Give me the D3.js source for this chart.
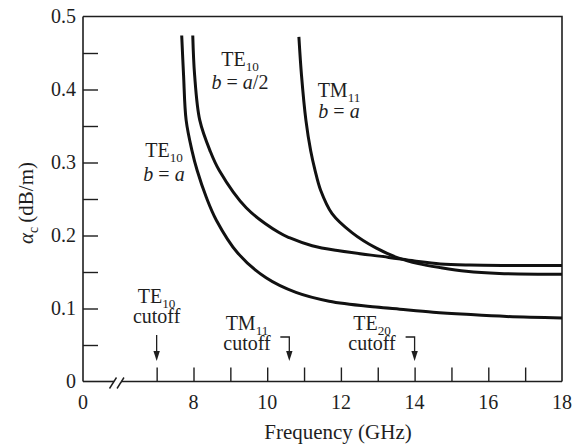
<!DOCTYPE html>
<html>
<head>
<meta charset="utf-8">
<script src="https://cdn.jsdelivr.net/npm/d3@7"></script>
<style>
  html, body { margin: 0; padding: 0; background: #fff; }
  svg { display: block; }
</style>
</head>
<body>
<svg id="chart" width="572" height="448"></svg>
<script>
// ---------------- data ----------------
// Frequency (GHz), attenuation alpha_c (dB/m)
const te10SquarePts = [
  [7.68,0.474],[7.73,0.42],[7.80,0.358],[7.96,0.316],[8.10,0.289],[8.35,0.252],
  [8.62,0.221],[9.20,0.176],[9.97,0.142],[10.78,0.122],[11.68,0.110],
  [12.95,0.102],[13.6,0.099],[14.5,0.095],[15.4,0.092],[16.5,0.089],[18,0.087]
];
const te10HalfPts = [
  [7.98,0.474],[8.03,0.42],[8.17,0.358],[8.45,0.316],[8.70,0.289],[9.43,0.238],
  [10.32,0.204],[10.6,0.197],[11.22,0.186],[11.95,0.179],[13.3,0.170],
  [14.0,0.165],[14.7,0.161],[15.5,0.1595],[16.5,0.159],[18,0.159]
];
const tm11SquarePts = [
  [10.86,0.472],[10.93,0.42],[11.05,0.358],[11.18,0.316],[11.30,0.289],
  [11.45,0.262],[11.76,0.230],[12.3,0.204],[12.95,0.183],[13.57,0.169],
  [14.1,0.1615],[14.7,0.156],[15.4,0.151],[16.3,0.148],[18,0.147]
];
const cutoffFreqs = [7.0, 10.6, 14.0];
const xLabelValues = [0, 8, 10, 12, 14, 16, 18];
const xMinorTicks = [7, 8, 9, 10, 11, 12, 13, 14, 15, 16, 17];
const yLabelValues = [0, 0.1, 0.2, 0.3, 0.4, 0.5];
const yTickValues = [0.05, 0.1, 0.15, 0.2, 0.25, 0.3, 0.35, 0.4, 0.45];
const xDomainBreak = [0, 6, 18];   // broken axis: 0 .. 6 compressed
const yDomain = [0, 0.5];

// ---------------- layout ----------------
const svg = d3.select("#chart");
const FONT = "'Liberation Serif','DejaVu Serif',serif";
const INK = "#1e1e1e";
const pLeft = 83, pRight = 562, pTop = 16.5, pBottom = 381.5;

const x = d3.scaleLinear().domain(xDomainBreak).range([pLeft, 119.8, pRight]);
const y = d3.scaleLinear().domain(yDomain).range([pBottom, pTop]);

// frame: top + right border
svg.append("path")
  .attr("d", `M${pLeft},${pTop}H${pRight}V${pBottom}`)
  .attr("fill", "none").attr("stroke", INK).attr("stroke-width", 1.6);

// y axis (ticks inward)
const yAxis = d3.axisRight(y).tickValues(yTickValues).tickSize(15).tickFormat("");
const gy = svg.append("g").attr("transform", `translate(${pLeft},0)`).call(yAxis);
gy.select(".domain").remove();
gy.selectAll(".tick line").attr("stroke", INK).attr("stroke-width", 1.4);
svg.append("line").attr("x1", pLeft).attr("x2", pLeft).attr("y1", pTop).attr("y2", pBottom)
  .attr("stroke", INK).attr("stroke-width", 1.6);
svg.append("g").selectAll("text").data(yLabelValues).join("text")
  .attr("x", 76).attr("y", d => y(d) + 6.5)
  .attr("text-anchor", "end")
  .attr("font-family", FONT).attr("font-size", 20).attr("fill", INK)
  .text(d => d === 0 ? "0" : d3.format(".1f")(d));

// x axis (ticks inward)
const xAxis = d3.axisTop(x).tickValues(xMinorTicks).tickSize(14).tickFormat("");
const gx = svg.append("g").attr("transform", `translate(0,${pBottom})`).call(xAxis);
gx.select(".domain").remove();
gx.selectAll(".tick line").attr("stroke", INK).attr("stroke-width", 1.4);
// axis line with break
svg.append("line").attr("x1", pLeft).attr("x2", 114).attr("y1", pBottom).attr("y2", pBottom)
  .attr("stroke", INK).attr("stroke-width", 1.6);
svg.append("line").attr("x1", 121).attr("x2", pRight).attr("y1", pBottom).attr("y2", pBottom)
  .attr("stroke", INK).attr("stroke-width", 1.6);
[113, 120.5].forEach(cx => {
  svg.append("line").attr("x1", cx - 3.5).attr("y1", pBottom + 7)
    .attr("x2", cx + 3.5).attr("y2", pBottom - 4)
    .attr("stroke", INK).attr("stroke-width", 1.4);
});
svg.append("g").selectAll("text").data(xLabelValues).join("text")
  .attr("x", d => x(d)).attr("y", 409)
  .attr("text-anchor", "middle")
  .attr("font-family", FONT).attr("font-size", 20).attr("fill", INK)
  .text(d => String(d));

// axis title
svg.append("text").attr("x", 338).attr("y", 439).attr("text-anchor", "middle")
  .attr("font-family", FONT).attr("font-size", 21).attr("fill", INK)
  .text("Frequency (GHz)");

// multi-line rich text: lines = [[seg, ...], ...]
function richText(g, xPos, yPos, lines, size, lineGap) {
  const t = g.append("text").attr("x", xPos).attr("y", yPos)
    .attr("text-anchor", "middle")
    .attr("font-family", FONT).attr("font-size", size).attr("fill", INK);
  let shifted = 0;
  lines.forEach((segs, li) => {
    segs.forEach((s, si) => {
      const sp = t.append("tspan").text(s.t);
      let dy = 0;
      if (si === 0 && li > 0) { sp.attr("x", xPos); dy += lineGap - shifted; shifted = 0; }
      if (s.i) sp.attr("font-style", "italic");
      if (s.sub) {
        sp.attr("font-size", size * 0.66);
        dy += 4.5 - shifted; shifted = 4.5;
      } else if (shifted) {
        dy -= shifted; shifted = 0;
      }
      if (dy) sp.attr("dy", dy);
    });
  });
  return t;
}

const yTitle = svg.append("g").attr("transform", "translate(33,203) rotate(-90)");
richText(yTitle, 0, 0, [[{t:"α", i:true}, {t:"c", sub:true}, {t:"\u2009(dB/m)"}]], 21, 0);

// curves
const line = d3.line().x(d => x(d[0])).y(d => y(d[1])).curve(d3.curveCatmullRom.alpha(0.5));
[te10SquarePts, te10HalfPts, tm11SquarePts].forEach(pts => {
  svg.append("path").datum(pts).attr("d", line)
    .attr("fill", "none").attr("stroke", "#111").attr("stroke-width", 3)
    .attr("stroke-linecap", "butt");
});

// curve labels
const lab = svg.append("g");
const TE10 = [{t:"TE"}, {t:"10", sub:true}];
const TM11 = [{t:"TM"}, {t:"11", sub:true}];
const TE20 = [{t:"TE"}, {t:"20", sub:true}];
const bEqA = [{t:"b", i:true}, {t:" = "}, {t:"a", i:true}];
const bEqA2 = [{t:"b", i:true}, {t:" = "}, {t:"a", i:true}, {t:"/2"}];
const CUT = [{t:"cutoff"}];
richText(lab, 164, 157, [TE10, bEqA], 20, 24);
richText(lab, 240, 66, [TE10, bEqA2], 20, 23);
richText(lab, 339, 97, [TM11, bEqA], 20, 21);

// cutoff labels + arrows
richText(lab, x(cutoffFreqs[0]), 303, [TE10, CUT], 20, 20);
richText(lab, 247, 330, [TM11, CUT], 20, 20);
richText(lab, 372, 330, [TE20, CUT], 20, 20);

const tipY = 361, headLen = 10, headW = 3.2;
cutoffFreqs.forEach((f, i) => {
  const cx = x(f);
  const path = i === 0 ? `M${cx},335V${tipY - headLen + 1}`
                       : `M${cx - 9},337H${cx}V${tipY - headLen + 1}`;
  svg.append("path").attr("d", path).attr("fill", "none")
    .attr("stroke", INK).attr("stroke-width", 1.3);
  svg.append("path")
    .attr("d", `M${cx - headW},${tipY - headLen}L${cx + headW},${tipY - headLen}L${cx},${tipY}Z`)
    .attr("fill", INK);
});
</script>
</body>
</html>
